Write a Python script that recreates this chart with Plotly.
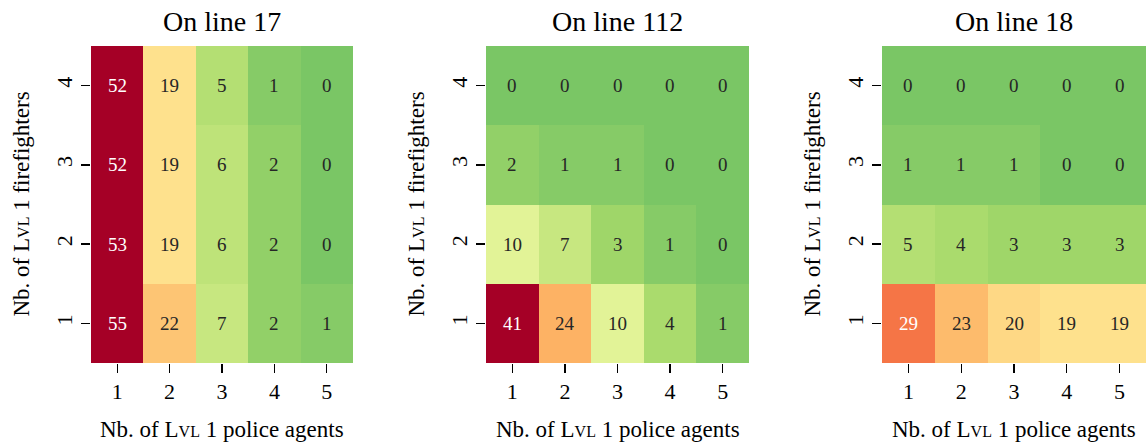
import plotly.graph_objects as go
from plotly.colors import sample_colorscale, hex_to_rgb

titles = ["On line 17", "On line 112", "On line 18"]
police = [1, 2, 3, 4, 5]
firefighters = [1, 2, 3, 4]

# rows: firefighters 1..4, cols: police 1..5
line17 = [[55, 22, 7, 2, 1],
          [53, 19, 6, 2, 0],
          [52, 19, 6, 2, 0],
          [52, 19, 5, 1, 0]]
line112 = [[41, 24, 10, 4, 1],
           [10, 7, 3, 1, 0],
           [2, 1, 1, 0, 0],
           [0, 0, 0, 0, 0]]
line18 = [[29, 23, 20, 19, 19],
          [5, 4, 3, 3, 3],
          [1, 1, 1, 0, 0],
          [0, 0, 0, 0, 0]]
data = [line17, line112, line18]

ZMIN, ZMAX = -12, 40
rdylgn = ["#a50026", "#d73027", "#f46d43", "#fdae61", "#fee08b", "#ffffbf",
          "#d9ef8b", "#a6d96a", "#66bd63", "#1a9850", "#006837"]
rdylgn_r = rdylgn[::-1]
colorscale = [[i / 10, c] for i, c in enumerate(rdylgn_r)]

FONT = "Liberation Serif, DejaVu Serif, serif"
W, H = 1147, 446
xdom = [(91 / W, 353 / W), (486 / W, 749 / W), (882 / W, 1146 / W)]
ydom = (1 - 363 / H, 1 - 46 / H)

def lum(rgbstr):
    s = rgbstr.strip()
    if s.startswith("#"):
        r, g, b = hex_to_rgb(s)
    else:
        r, g, b = [float(v) for v in s[s.index("(") + 1:s.index(")")].split(",")[:3]]
    def f(c):
        c = c / 255
        return c / 12.92 if c <= 0.03928 else ((c + 0.055) / 1.055) ** 2.4
    return 0.2126 * f(r) + 0.7152 * f(g) + 0.0722 * f(b)

fig = go.Figure()
annotations = []
sc = "<span style='font-size:16px'>VL</span>"
label_x = f"Nb. of L{sc} 1 police agents"
label_y = f"Nb. of L{sc} 1 firefighters"

for k, z in enumerate(data):
    xa = "x" if k == 0 else f"x{k+1}"
    ya = "y" if k == 0 else f"y{k+1}"
    fig.add_trace(go.Heatmap(
        x=police, y=firefighters, z=z, colorscale=colorscale,
        zmin=ZMIN, zmax=ZMAX, showscale=False, xaxis=xa, yaxis=ya,
        xgap=0, ygap=0, hoverinfo="skip"))
    for i, ff in enumerate(firefighters):
        for j, p in enumerate(police):
            v = z[i][j]
            t = (min(max(v, ZMIN), ZMAX) - ZMIN) / (ZMAX - ZMIN)
            col = sample_colorscale(colorscale, [t])[0]
            tc = "#262626" if lum(col) > 0.408 else "white"
            annotations.append(dict(x=p, y=ff, xref=xa, yref=ya, text=str(v),
                                    showarrow=False,
                                    font=dict(family=FONT, size=19, color=tc)))
    cx = (xdom[k][0] + xdom[k][1]) / 2
    # title
    annotations.append(dict(x=cx, y=1 - 21 / H, xref="paper", yref="paper",
                            text=titles[k], showarrow=False,
                            xanchor="center", yanchor="middle",
                            font=dict(family=FONT, size=28, color="black")))
    # x axis title
    annotations.append(dict(x=cx, y=1 - 429 / H, xref="paper", yref="paper",
                            text=label_x, showarrow=False,
                            xanchor="center", yanchor="middle",
                            font=dict(family=FONT, size=23, color="black")))
    # y axis title
    annotations.append(dict(x=(xdom[k][0] * W - 70) / W, y=(ydom[0] + ydom[1]) / 2,
                            xref="paper", yref="paper", textangle=-90,
                            text=label_y, showarrow=False,
                            xanchor="center", yanchor="middle",
                            font=dict(family=FONT, size=23, color="black")))
    axx = dict(domain=list(xdom[k]), anchor=ya, range=[0.5, 5.5],
               tickvals=police, ticktext=[str(v) for v in police],
               ticks="outside", ticklen=9, tickwidth=1.3, tickcolor="black",
               showgrid=False, zeroline=False, showline=False,
               tickfont=dict(family=FONT, size=22, color="black"))
    axy = dict(domain=list(ydom), anchor=xa, range=[0.5, 4.5],
               tickvals=firefighters, ticktext=[str(v) for v in firefighters],
               ticks="outside", ticklen=9, tickwidth=1.3, tickcolor="black",
               tickangle=-90,
               showgrid=False, zeroline=False, showline=False,
               tickfont=dict(family=FONT, size=22, color="black"))
    fig.update_layout(**{("xaxis" if k == 0 else f"xaxis{k+1}"): axx,
                         ("yaxis" if k == 0 else f"yaxis{k+1}"): axy})

fig.update_layout(width=W, height=H, margin=dict(l=0, r=0, t=0, b=0),
                  paper_bgcolor="white", plot_bgcolor="white",
                  annotations=annotations, showlegend=False)
fig.write_html("out.html", config={"displayModeBar": False, "staticPlot": True})

# remove the default page margin so the figure fills the window exactly
with open("out.html", "r", encoding="utf-8") as fh:
    html = fh.read()
html = html.replace("<head>", "<head><style>html,body{margin:0;padding:0;overflow:hidden;}</style>", 1)
with open("out.html", "w", encoding="utf-8") as fh:
    fh.write(html)
